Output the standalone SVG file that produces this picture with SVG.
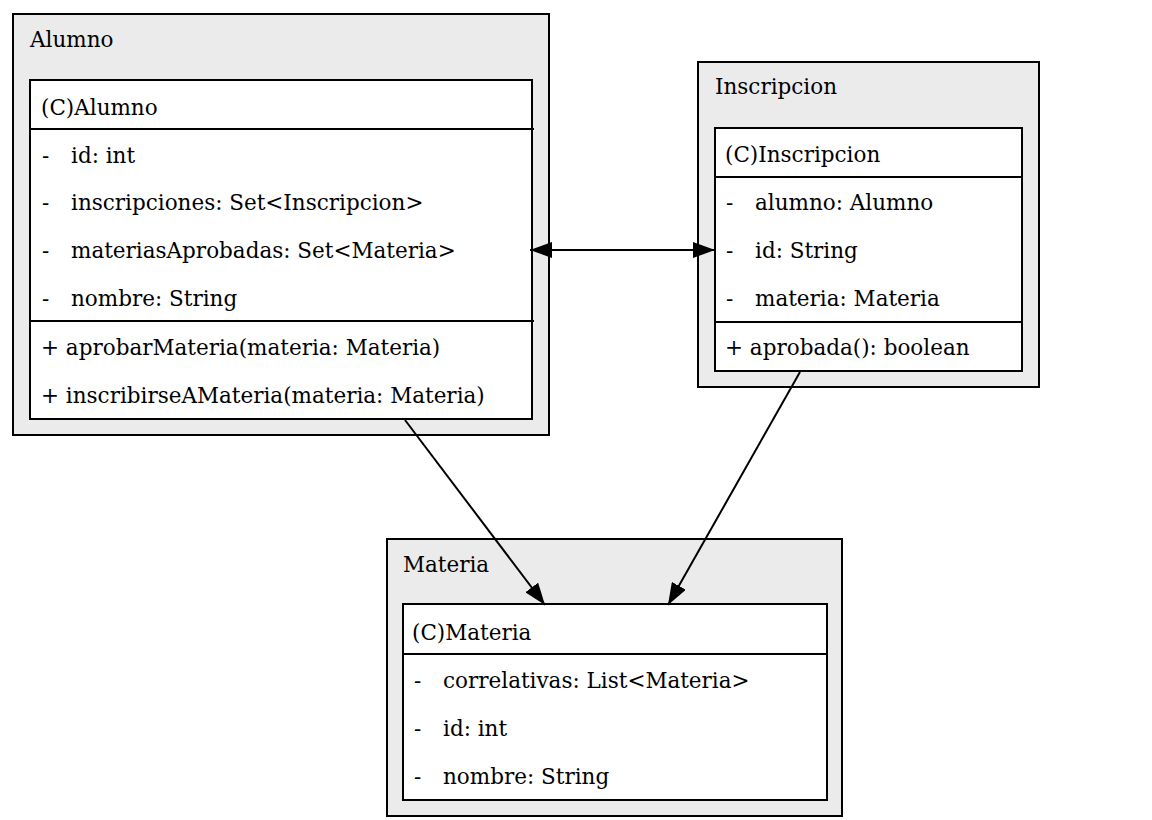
<svg xmlns="http://www.w3.org/2000/svg" width="1152" height="820" viewBox="0 0 1152 820">
<defs>
<style>
.cl{fill:#ebebeb;stroke:#000;stroke-width:2}
.tb{fill:#fff;stroke:#000;stroke-width:2}
.sep{stroke:#000;stroke-width:2}
.edge{stroke:#000;stroke-width:2;fill:none}
</style>
<marker id="ah" markerWidth="22" markerHeight="16" refX="22" refY="8" orient="auto-start-reverse" markerUnits="userSpaceOnUse">
<path d="M0,0 L22,8 L0,16 Z" fill="#000"/>
</marker>
</defs>
<rect width="1152" height="820" fill="#fff"/>
<g font-family="'DejaVu Serif', 'Liberation Serif', serif" font-size="21.5" fill="#000">
<g id="alumno">
<rect class="cl" x="13" y="14" width="536" height="421"/>
<text x="30" y="47">Alumno</text>
<rect class="tb" x="30" y="80" width="502" height="339"/>
<line class="sep" x1="30" y1="129" x2="534" y2="129"/>
<line class="sep" x1="30" y1="321" x2="534" y2="321"/>
<text x="41" y="115">(C)Alumno</text>
<text x="42" y="163">-</text><text x="71" y="163">id: int</text>
<text x="42" y="210">-</text><text x="71" y="210">inscripciones: Set&lt;Inscripcion&gt;</text>
<text x="42" y="258">-</text><text x="71" y="258">materiasAprobadas: Set&lt;Materia&gt;</text>
<text x="42" y="306">-</text><text x="71" y="306">nombre: String</text>
<text x="41" y="355">+ aprobarMateria(materia: Materia)</text>
<text x="41" y="403">+ inscribirseAMateria(materia: Materia)</text>
</g>
<g id="inscripcion">
<rect class="cl" x="698" y="62" width="341" height="325"/>
<text x="715" y="94">Inscripcion</text>
<rect class="tb" x="715" y="128" width="307" height="243"/>
<line class="sep" x1="715" y1="177" x2="1022" y2="177"/>
<line class="sep" x1="715" y1="322" x2="1022" y2="322"/>
<text x="725" y="162">(C)Inscripcion</text>
<text x="726" y="210">-</text><text x="755" y="210">alumno: Alumno</text>
<text x="726" y="258">-</text><text x="755" y="258">id: String</text>
<text x="726" y="306">-</text><text x="755" y="306">materia: Materia</text>
<text x="725" y="355">+ aprobada(): boolean</text>
</g>
<g id="materia">
<rect class="cl" x="387" y="539" width="455" height="277"/>
<text x="403" y="572">Materia</text>
<rect class="tb" x="403" y="604" width="424" height="196"/>
<line class="sep" x1="403" y1="654" x2="827" y2="654"/>
<text x="412" y="640">(C)Materia</text>
<text x="414" y="688">-</text><text x="443" y="688">correlativas: List&lt;Materia&gt;</text>
<text x="414" y="736">-</text><text x="443" y="736">id: int</text>
<text x="414" y="784">-</text><text x="443" y="784">nombre: String</text>
</g>
</g>
<g id="connectors">
<line class="edge" x1="530" y1="250" x2="715" y2="250" marker-start="url(#ah)" marker-end="url(#ah)"/>
<line class="edge" x1="405" y1="420" x2="545" y2="605" marker-end="url(#ah)"/>
<line class="edge" x1="800" y1="372" x2="668" y2="605" marker-end="url(#ah)"/>
</g>
</svg>
